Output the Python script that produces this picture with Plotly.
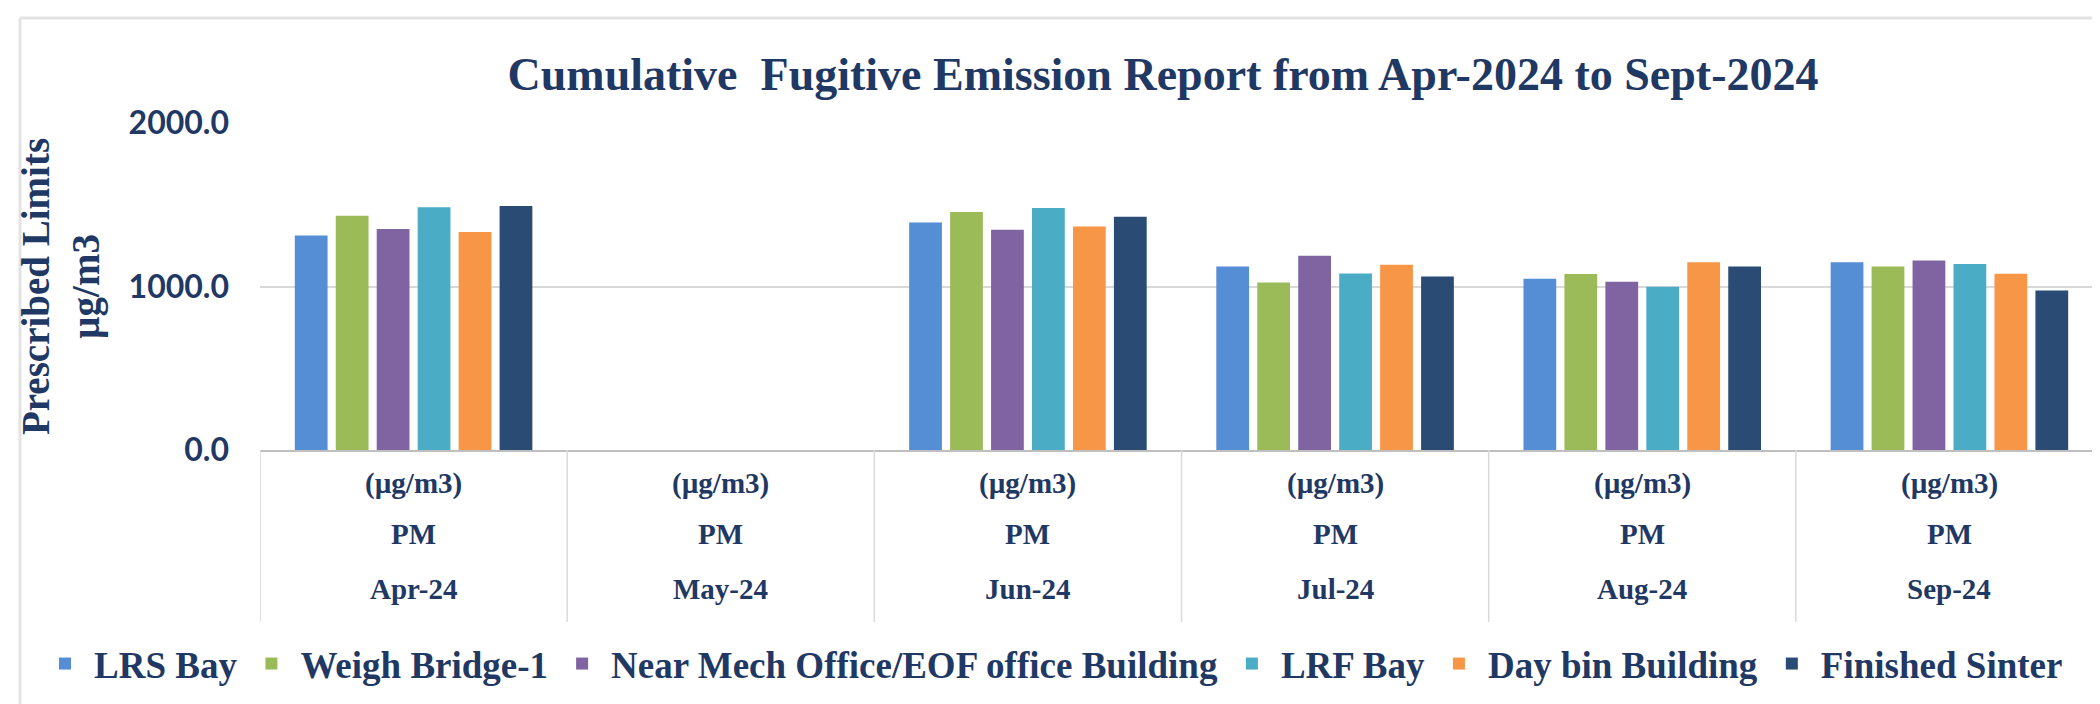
import plotly.graph_objects as go

months = ["Apr-24", "May-24", "Jun-24", "Jul-24", "Aug-24", "Sep-24"]
param_label = "PM"
unit_label = "(µg/m3)"

series_names = ["LRS Bay", "Weigh Bridge-1", "Near Mech Office/EOF office Building",
                "LRF Bay", "Day bin Building", "Finished Sinter"]
lrs_bay = [1312, None, 1392, 1122, 1047, 1149]
weigh_bridge = [1433, None, 1455, 1024, 1076, 1122]
near_mech = [1351, None, 1347, 1188, 1029, 1159]
lrf_bay = [1484, None, 1480, 1080, 998, 1137]
day_bin = [1333, None, 1367, 1133, 1149, 1078]
finished_sinter = [1492, None, 1427, 1061, 1122, 976]
series_values = [lrs_bay, weigh_bridge, near_mech, lrf_bay, day_bin, finished_sinter]
colors = ["#558ED5", "#9BBB59", "#8064A2", "#4BACC6", "#F79646", "#2A4B73"]

y_ticks = [0, 1000, 2000]
y_ticklabels = ["0.0", "1000.0", "2000.0"]

NAVY = "#1F3864"
SERIF = "Liberation Serif"

W, H = 2100, 704
L, R, T, B = 252, 2095, 115, 442

fig = go.Figure()
for name, vals, col in zip(series_names, series_values, colors):
    fig.add_trace(go.Bar(x=months, y=vals, name=name, marker=dict(color=col, line=dict(width=0))))

plot_h = B - T
def ypaper(py):
    return (B - py) / plot_h
def xpaper(px):
    return (px - L) / (R - L)

annotations = []
for m in months:
    for txt, py in [(unit_label, 475), (param_label, 526), (m, 581)]:
        annotations.append(dict(x=m, y=ypaper(py), xref="x", yref="paper", text=txt,
                                showarrow=False, xanchor="center", yanchor="middle",
                                font=dict(family=SERIF, size=29, color=NAVY, weight="bold")))

shapes = []
for i in range(len(months) + 1):
    shapes.append(dict(type="line", xref="x", yref="paper", x0=i - 0.5, x1=i - 0.5,
                       y0=0, y1=ypaper(614), line=dict(color="#D9D9D9", width=1.5)))
# outer chart frame (top and left)
shapes.append(dict(type="line", xref="paper", yref="paper", x0=xpaper(12), x1=xpaper(W),
                   y0=ypaper(10), y1=ypaper(10), line=dict(color="#E3E3E3", width=3)))
shapes.append(dict(type="line", xref="paper", yref="paper", x0=xpaper(12), x1=xpaper(12),
                   y0=ypaper(10), y1=ypaper(H), line=dict(color="#E3E3E3", width=3)))

fig.update_layout(
    width=W, height=H,
    margin=dict(l=L, r=W - R, t=T, b=H - B, autoexpand=False),
    paper_bgcolor="white", plot_bgcolor="white",
    barmode="group", bargap=0.2, bargroupgap=0.2,
    title=dict(text="Cumulative  Fugitive Emission Report from Apr-2024 to Sept-2024",
               x=1155 / W, xref="container", xanchor="center", y=1 - 66 / H, yanchor="middle",
               yref="container",
               font=dict(family=SERIF, size=46, color=NAVY, weight=600)),
    xaxis=dict(type="category", showticklabels=False, showgrid=False, ticks="",
               showline=True, linecolor="#BFBFBF", linewidth=1.5, range=[-0.5, 5.5]),
    yaxis=dict(range=[0, 2000], tickvals=y_ticks, ticktext=y_ticklabels,
               showgrid=True, gridcolor="#D9D9D9", gridwidth=1.5, zeroline=False,
               tickfont=dict(family="Lato", size=32, color=NAVY, weight="bold"),
               ticklabelstandoff=30,
               title=dict(text="<b>Prescribed Limits<br>µg/m3</b>", standoff=16,
                          font=dict(family=SERIF, size=39, color=NAVY))),
    legend=dict(orientation="h", xref="paper", yref="paper", x=xpaper(28), xanchor="left",
                y=ypaper(656), yanchor="middle", traceorder="normal",
                font=dict(family=SERIF, size=37, color=NAVY, weight="bold"),
                itemwidth=48),
    annotations=annotations, shapes=shapes,
)

fig.write_html("out.html")
